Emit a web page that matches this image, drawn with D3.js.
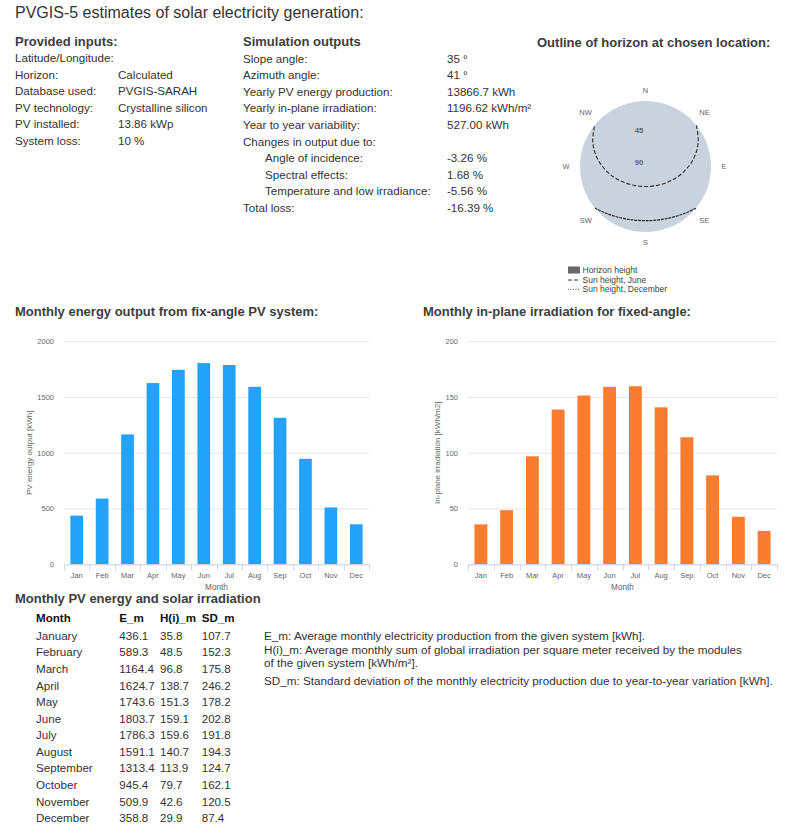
<!DOCTYPE html>
<html><head><meta charset="utf-8">
<script src="https://cdn.jsdelivr.net/npm/d3@7"></script>
<style>
body{margin:0;background:#fff}
svg{display:block;font-family:"Liberation Sans",Arial,Helvetica,sans-serif}
</style>
</head><body>
<svg id="c" width="799" height="836"></svg>
<script>
// ---------- DATA ----------
const months = ["Jan","Feb","Mar","Apr","May","Jun","Jul","Aug","Sep","Oct","Nov","Dec"];
const monthNames = ["January","February","March","April","May","June","July","August","September","October","November","December"];
const E_m  = [436.1,589.3,1164.4,1624.7,1743.6,1803.7,1786.3,1591.1,1313.4,945.4,509.9,358.8];
const H_m  = [35.8,48.5,96.8,138.7,151.3,159.1,159.6,140.7,113.9,79.7,42.6,29.9];
const SD_m = [107.7,152.3,175.8,246.2,178.2,202.8,191.8,194.3,124.7,162.1,120.5,87.4];
const energyTicks = [0,500,1000,1500,2000];
const irradTicks = [0,50,100,150,200];

const inputLabels = ["Latitude/Longitude:","Horizon:","Database used:","PV technology:","PV installed:","System loss:"];
const inputValues = ["","Calculated","PVGIS-SARAH","Crystalline silicon","13.86 kWp","10 %"];

const outputLabels = ["Slope angle:","Azimuth angle:","Yearly PV energy production:","Yearly in-plane irradiation:","Year to year variability:","Changes in output due to:","Angle of incidence:","Spectral effects:","Temperature and low irradiance:","Total loss:"];
const outputValues = ["35 °","41 °","13866.7 kWh","1196.62 kWh/m²","527.00 kWh","","-3.26 %","1.68 %","-5.56 %","-16.39 %"];
const outputIndent = [0,0,0,0,0,0,1,1,1,0];

const compassLabels = ["N","NE","E","SE","S","SW","W","NW"];
const compassAz = [0,45,90,135,180,225,270,315];
const radialTicks = [45,90];

const horizonAz = [0,10,20,30,40,50,60,70,80,90,100,110,120,130,140,150,160,170,180,190,200,210,220,230,240,250,260,270,280,290,300,310,320,330,340,350];
const horizonHeight = [0,0,0,0,0,0,0,0,0,0,0,0,0,0,0,0,0,0,0,0,0,0,0,0,0,0,0,0,0,0,0,0,0,0,0,0];

const juneAz   = [51,63.9,74.7,85.7,97.6,111.4,128.7,151.5,180,208.5,231.3,248.6,262.4,274.3,285.3,296.1,309];
const juneElev = [0,9.2,18.0,27.3,36.7,45.8,54.0,60.1,62.5,60.1,54.0,45.8,36.7,27.3,18.0,9.2,0];
const decAz    = [129.5,139.3,152.2,165.8,180,194.2,207.8,220.7,230.5];
const decElev  = [0,5.7,11.0,14.4,15.5,14.4,11.0,5.7,0];

const legendItems = ["Horizon height","Sun height, June","Sun height, December"];
const explanations = [
  "E_m: Average monthly electricity production from the given system [kWh].",
  "H(i)_m: Average monthly sum of global irradiation per square meter received by the modules",
  "of the given system [kWh/m²].",
  "SD_m: Standard deviation of the monthly electricity production due to year-to-year variation [kWh]."
];

// ---------- DRAW ----------
const svg = d3.select("#c");
const TXT = "#333", HEAD = "#3d3d3d", AX = "#666";

svg.append("text").attr("x",15).attr("y",18).attr("font-size",16).attr("fill",TXT)
  .text("PVGIS-5 estimates of solar electricity generation:");

function header(x,y,t){
  svg.append("text").attr("x",x).attr("y",y).attr("font-size",13).attr("font-weight","bold").attr("fill",HEAD).text(t);
}
header(15,46,"Provided inputs:");
header(243,46,"Simulation outputs");
header(537,46.5,"Outline of horizon at chosen location:");
header(15,316,"Monthly energy output from fix-angle PV system:");
header(423,316,"Monthly in-plane irradiation for fixed-angle:");
header(15,602.5,"Monthly PV energy and solar irradiation");

const bodyFS = 11.6;
inputLabels.forEach((l,i)=>{
  const y = 62.1 + i*16.5;
  svg.append("text").attr("x",15).attr("y",y).attr("font-size",bodyFS).attr("fill",TXT).text(l);
  svg.append("text").attr("x",118).attr("y",y).attr("font-size",bodyFS).attr("fill",TXT).text(inputValues[i]);
});
outputLabels.forEach((l,i)=>{
  const y = 62.8 + i*16.55;
  svg.append("text").attr("x",outputIndent[i]?265:243).attr("y",y).attr("font-size",bodyFS).attr("fill",TXT).text(l);
  svg.append("text").attr("x",447).attr("y",y).attr("font-size",bodyFS).attr("fill",TXT).text(outputValues[i]);
});

// ---------- Horizon polar chart ----------
const cx = 645.5, cy = 166.5, R = 65.5;
const rScale = d3.scaleLinear().domain([90,0]).range([0,R]);
const toRad = a => a*Math.PI/180;
const pg = svg.append("g").attr("transform",`translate(${cx},${cy})`);
const hData = horizonAz.map((a,i)=>({a, h:horizonHeight[i]}));
pg.append("path").datum(hData)
  .attr("d", d3.areaRadial().angle(d=>toRad(d.a)).innerRadius(0).outerRadius(d=>rScale(d.h)).curve(d3.curveCatmullRomClosed))
  .attr("fill","#c9d3dd");
const jData = juneAz.map((a,i)=>({a, e:juneElev[i]}));
const dData = decAz.map((a,i)=>({a, e:decElev[i]}));
const sunLine = d3.lineRadial().angle(d=>toRad(d.a)).radius(d=>rScale(d.e)).curve(d3.curveCatmullRom);
pg.append("path").datum(jData).attr("d",sunLine).attr("fill","none").attr("stroke","#2b2b2b").attr("stroke-width",1.1).attr("stroke-dasharray","4,2");
pg.append("path").datum(dData).attr("d",sunLine).attr("fill","none").attr("stroke","#2b2b2b").attr("stroke-width",1.2).attr("stroke-dasharray","3,0.8");
radialTicks.forEach(t=>{
  pg.append("text").attr("x",-6.5).attr("y",-rScale(t)-1.2).attr("text-anchor","middle")
    .attr("font-size",7.8).attr("font-weight","bold").attr("fill","#666").text(t);
});
compassLabels.forEach((l,i)=>{
  const a = toRad(compassAz[i]);
  const s = Math.sin(a), c = Math.cos(a);
  const anchor = Math.abs(s)<0.01 ? "middle" : (s>0 ? "start":"end");
  pg.append("text").attr("x",76*s).attr("y",-76*c+2.7).attr("text-anchor",anchor)
    .attr("font-size",7.5).attr("fill","#666").text(l);
});
// legend
const lg = svg.append("g");
const lgY = [270,280,289.3];
lg.append("rect").attr("x",568).attr("y",lgY[0]-3.5).attr("width",12).attr("height",7).attr("fill","#666");
lg.append("line").attr("x1",568).attr("x2",580).attr("y1",lgY[1]).attr("y2",lgY[1]).attr("stroke","#333").attr("stroke-width",1).attr("stroke-dasharray","4,2");
lg.append("line").attr("x1",568).attr("x2",580).attr("y1",lgY[2]).attr("y2",lgY[2]).attr("stroke","#555").attr("stroke-width",1).attr("stroke-dasharray","1,1.5");
legendItems.forEach((t,i)=>{
  lg.append("text").attr("x",582.5).attr("y",lgY[i]+3).attr("font-size",8.5).attr("fill","#444").text(t);
});

// ---------- Bar charts ----------
function barChart(o){
  const g = svg.append("g");
  const x = d3.scaleBand().domain(months).range([o.x0,o.x1]).padding(0);
  const y = d3.scaleLinear().domain([0,o.max]).range([564.3,341.2]);
  const ya = d3.axisLeft(y).tickValues(o.ticks).tickFormat(d3.format("d")).tickSize(-(o.x1-o.x0)).tickPadding(o.x0-o.labelRight);
  const yg = g.append("g").attr("transform",`translate(${o.x0},0)`).call(ya);
  yg.select(".domain").remove();
  yg.selectAll(".tick line").attr("stroke","#e6e6e6");
  yg.selectAll(".tick text").attr("font-size",7.5).attr("fill",AX);
  yg.attr("font-family",null).attr("font-size",null);
  const bw = x.bandwidth()*0.5;
  g.selectAll("rect.bar").data(o.values).join("rect").attr("class","bar")
    .attr("x",(d,i)=>x(months[i])+x.bandwidth()/2-bw/2)
    .attr("y",d=>y(d)).attr("width",bw).attr("height",d=>y(0)-y(d)).attr("fill",o.color);
  g.append("line").attr("x1",o.x0).attr("x2",o.x1).attr("y1",y(0)+0.5).attr("y2",y(0)+0.5).attr("stroke","#ccd6eb");
  const bounds = months.map(m=>x(m)).concat([o.x1]);
  g.selectAll("line.tk").data(bounds).join("line").attr("class","tk")
    .attr("x1",d=>Math.round(d)+0.5).attr("x2",d=>Math.round(d)+0.5).attr("y1",y(0)).attr("y2",y(0)+6).attr("stroke","#ccd6eb");
  g.selectAll("text.xl").data(months).join("text").attr("class","xl")
    .attr("x",d=>x(d)+x.bandwidth()/2).attr("y",577.8).attr("text-anchor","middle")
    .attr("font-size",7.5).attr("fill",AX).text(d=>d);
  g.append("text").attr("x",(o.x0+o.x1)/2).attr("y",589.8).attr("text-anchor","middle")
    .attr("font-size",8.2).attr("fill",AX).text("Month");
  g.append("text").attr("transform",`translate(${o.titleX},${(y(0)+y(o.max))/2}) rotate(-90)`)
    .attr("text-anchor","middle").attr("font-size",8).attr("fill",AX).text(o.yTitle);
}
barChart({x0:64,x1:369,labelRight:54,max:2000,ticks:energyTicks,values:E_m,color:"#23a2fa",yTitle:"PV energy output [kWh]",titleX:31.5});
barChart({x0:468,x1:777,labelRight:458,max:200,ticks:irradTicks,values:H_m,color:"#fb7b2f",yTitle:"In-plane irradiation [kWh/m2]",titleX:439.5});

// ---------- Table ----------
const colX = [36,119.3,160,201.7];
const colHeads = ["Month","E_m","H(i)_m","SD_m"];
colHeads.forEach((h,j)=>{
  svg.append("text").attr("x",colX[j]).attr("y",622.1).attr("font-size",bodyFS).attr("font-weight","bold").attr("fill","#111").text(h);
});
monthNames.forEach((m,i)=>{
  const yy = 639.8 + i*16.57;
  [m, E_m[i].toFixed(1), H_m[i].toFixed(1), SD_m[i].toFixed(1)].forEach((t,j)=>{
    svg.append("text").attr("x",colX[j]).attr("y",yy).attr("font-size",bodyFS).attr("fill",TXT).text(t);
  });
});
const exY = [640,654,667.2,685];
explanations.forEach((t,i)=>{
  svg.append("text").attr("x",264).attr("y",exY[i]).attr("font-size",11.7).attr("fill",TXT).text(t);
});
</script>
</body></html>
